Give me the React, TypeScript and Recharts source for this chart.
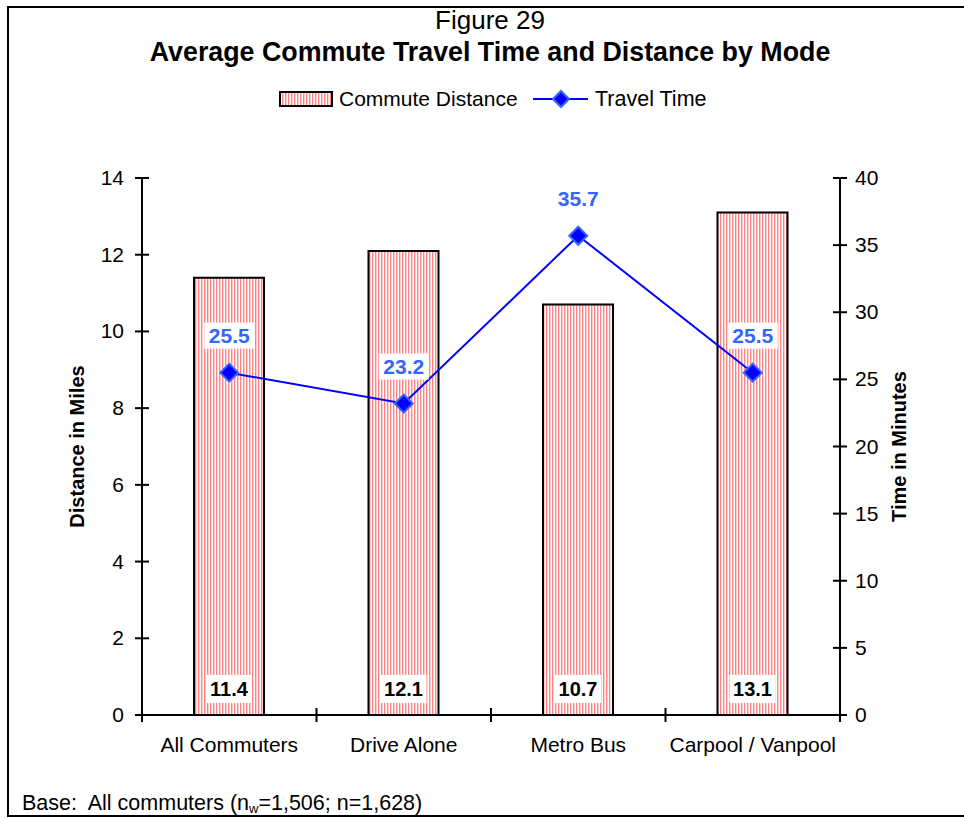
import React from "react";
import {
  ComposedChart,
  Bar,
  Line,
  XAxis,
  YAxis,
  LabelList,
  Label,
} from "recharts";

const modes = ["All Commuters", "Drive Alone", "Metro Bus", "Carpool / Vanpool"];
const distance = [11.4, 12.1, 10.7, 13.1];
const travelTime = [25.5, 23.2, 35.7, 25.5];
const distanceTicks = [0, 2, 4, 6, 8, 10, 12, 14];
const timeTicks = [0, 5, 10, 15, 20, 25, 30, 35, 40];

const rows = modes.map((mode, i) => ({ mode, distance: distance[i], time: travelTime[i] }));

const FONT = "'Liberation Sans', Arial, sans-serif";
const W = 964;
const H = 819;
const BAND = (840 - 142) / modes.length;
const FS = 21;

const LeftTick = (p: any) => {
  const ax = p.x + 18;
  return (
    <g>
      <line x1={ax - 7} x2={ax + 7} y1={p.y} y2={p.y} stroke="#000" strokeWidth={2} />
      <text x={p.x} y={p.y} dy={7} textAnchor="end" fontSize={FS} fill="#000" fontFamily={FONT}>
        {p.payload.value}
      </text>
    </g>
  );
};

const RightTick = (p: any) => {
  const ax = p.x - 15;
  return (
    <g>
      <line x1={ax - 7} x2={ax + 7} y1={p.y} y2={p.y} stroke="#000" strokeWidth={2} />
      <text x={p.x} y={p.y} dy={7} textAnchor="start" fontSize={FS} fill="#000" fontFamily={FONT}>
        {p.payload.value}
      </text>
    </g>
  );
};

const CatTick = (p: any) => {
  const last = p.index === modes.length - 1;
  return (
    <g>
      <line x1={p.x - BAND / 2} x2={p.x - BAND / 2} y1={708} y2={722} stroke="#000" strokeWidth={2} />
      {last && <line x1={p.x + BAND / 2} x2={p.x + BAND / 2} y1={708} y2={722} stroke="#000" strokeWidth={2} />}
      <text x={p.x} y={752} textAnchor="middle" fontSize={FS} fill="#000" fontFamily={FONT}>
        {p.payload.value}
      </text>
    </g>
  );
};

const Diamond = (p: any) => {
  const { cx, cy } = p;
  if (cx == null || cy == null) return null;
  const r = 9;
  return (
    <path
      d={`M${cx},${cy - r}L${cx + r},${cy}L${cx},${cy + r}L${cx - r},${cy}Z`}
      fill="#0000ff"
      stroke="#3366ff"
      strokeWidth={2}
    />
  );
};

const BarValue = (p: any) => {
  const { x, width, value } = p;
  const cx = x + width / 2;
  return (
    <g>
      <rect x={cx - 23} y={675} width={46} height={28} fill="#fff" />
      <text x={cx} y={689} dy={7} textAnchor="middle" fontSize={20} fontWeight="bold" fill="#000" fontFamily={FONT}>
        {value}
      </text>
    </g>
  );
};

const TimeValue = (p: any) => {
  const { x, y, value } = p;
  const ly = y - 37;
  return (
    <g>
      <rect x={x - 25} y={ly - 13} width={50} height={26} fill="#fff" />
      <text x={x} y={ly} dy={7} textAnchor="middle" fontSize={FS} fontWeight="bold" fill="#3366ff" fontFamily={FONT}>
        {value}
      </text>
    </g>
  );
};

const LegendBox = () => (
  <svg width={440} height={26} style={{ display: "block" }}>
    <rect x={1} y={6} width={52} height={14} fill="url(#stripes)" stroke="#000" strokeWidth={2} />
    <text x={60} y={20} fontSize={FS} fill="#000" fontFamily={FONT}>Commute Distance</text>
    <line x1={254} x2={309} y1={13} y2={13} stroke="#0000ff" strokeWidth={2} />
    <path d="M282,5L290,13L282,21L274,13Z" fill="#0000ff" stroke="#3366ff" strokeWidth={2} />
    <text x={316} y={20} fontSize={21.5} fill="#000" fontFamily={FONT}>Travel Time</text>
  </svg>
);

export default function App() {
  return (
    <div style={{ position: "fixed", left: 0, top: 0, width: W, height: H, background: "#fff", fontFamily: FONT }}>
      <div style={{ position: "absolute", left: 7, top: 6, width: 970, height: 811, border: "2px solid #000", boxSizing: "border-box" }} />
      <div style={{ position: "absolute", left: 0, width: 980, top: 5, textAlign: "center", fontSize: 26, color: "#000" }}>
        Figure 29
      </div>
      <div style={{ position: "absolute", left: 0, width: 980, top: 37, textAlign: "center", fontSize: 26.8, fontWeight: "bold", color: "#000" }}>
        Average Commute Travel Time and Distance by Mode
      </div>
      <div style={{ position: "absolute", left: 279, top: 86 }}>
        <LegendBox />
      </div>
      <div style={{ position: "absolute", left: 22, top: 791, fontSize: 21.5, color: "#000", whiteSpace: "nowrap" }}>
        Base:&nbsp; All commuters (n<sub style={{ fontSize: 13, verticalAlign: "-3px" }}>w</sub>=1,506; n=1,628)
      </div>
      <ComposedChart
        width={W}
        height={H}
        data={rows}
        margin={{ top: 178, right: 64, bottom: 64, left: 82 }}
        style={{ position: "absolute", left: 0, top: 0 }}
      >
        <defs>
          <pattern id="stripes" patternUnits="userSpaceOnUse" width={3} height={6}>
            <rect width={3} height={6} fill="#fff" />
            <rect width={1.4} height={6} fill="#ff8585" />
          </pattern>
        </defs>
        <XAxis
          dataKey="mode"
          height={40}
          axisLine={{ stroke: "#000", strokeWidth: 2 }}
          tickLine={false}
          tick={<CatTick />}
          interval={0}
        />
        <YAxis
          yAxisId="left"
          width={60}
          domain={[0, 14]}
          ticks={distanceTicks}
          axisLine={{ stroke: "#000", strokeWidth: 2 }}
          tickLine={false}
          tickSize={7}
          tickMargin={11}
          tick={<LeftTick />}
          interval={0}
        >
          <Label
            value="Distance in Miles"
            angle={-90}
            position="insideLeft"
            offset={0}
            style={{ fontSize: 20, fontWeight: "bold", fill: "#000", fontFamily: FONT, textAnchor: "middle" }}
            dx={-5}
          />
        </YAxis>
        <YAxis
          yAxisId="right"
          orientation="right"
          width={60}
          domain={[0, 40]}
          ticks={timeTicks}
          axisLine={{ stroke: "#000", strokeWidth: 2 }}
          tickLine={false}
          tickSize={7}
          tickMargin={8}
          tick={<RightTick />}
          interval={0}
        >
          <Label
            value="Time in Minutes"
            angle={-90}
            position="insideRight"
            offset={0}
            style={{ fontSize: 20, fontWeight: "bold", fill: "#000", fontFamily: FONT, textAnchor: "middle" }}
            dx={-1}
          />
        </YAxis>
        <Bar
          yAxisId="left"
          dataKey="distance"
          barSize={70}
          fill="url(#stripes)"
          stroke="#000"
          strokeWidth={2}
          isAnimationActive={false}
        >
          <LabelList dataKey="distance" content={<BarValue />} />
        </Bar>
        <Line
          yAxisId="right"
          dataKey="time"
          stroke="#0000ff"
          strokeWidth={2}
          dot={<Diamond />}
          activeDot={false}
          isAnimationActive={false}
        >
          <LabelList dataKey="time" content={<TimeValue />} />
        </Line>
      </ComposedChart>
    </div>
  );
}
